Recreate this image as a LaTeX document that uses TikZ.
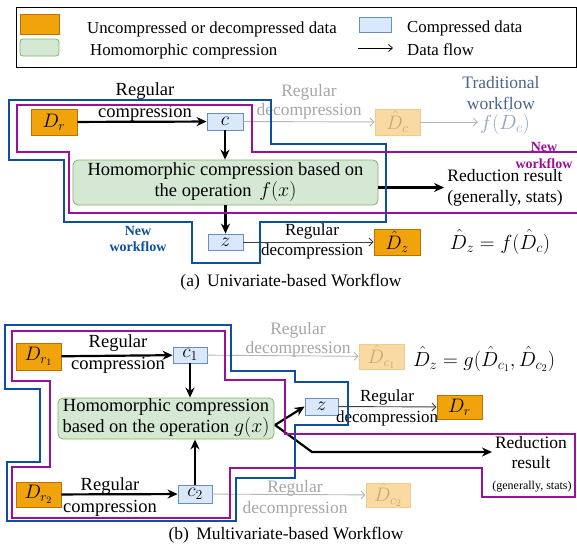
\RequirePackage{fix-cm}
\documentclass[tikz,border=0pt]{standalone}
\usepackage{fontspec}
\setmainfont{Liberation Serif}
\usetikzlibrary{arrows.meta}
\definecolor{orangeF}{HTML}{F0A30A}
\definecolor{orangeD}{HTML}{BD7000}
\definecolor{lorangeF}{HTML}{F9DAA3}
\definecolor{lorangeD}{HTML}{F2CB8C}
\definecolor{lorangeT}{HTML}{CDA86E}
\definecolor{compF}{HTML}{DAE8FC}
\definecolor{compD}{HTML}{6C8EBF}
\definecolor{greenF}{HTML}{D5E8D4}
\definecolor{greenD}{HTML}{82B366}
\definecolor{blueO}{HTML}{0E4F9E}
\definecolor{purpO}{HTML}{9A109A}
\definecolor{grayT}{HTML}{A6A6A6}
\definecolor{grayA}{HTML}{B5B5B5}
\definecolor{darkA}{HTML}{404040}
\definecolor{tradC}{HTML}{4A6589}
\definecolor{fdcC}{HTML}{8CA4C4}
\begin{document}
\begin{tikzpicture}[x=1pt,y=-1pt,
  orig/.style={draw=orangeD, fill=orangeF, inner sep=0, line width=0.8pt, font=\fontsize{19.5}{22}\selectfont},
  lorig/.style={draw=lorangeD, fill=lorangeF, inner sep=0, line width=0.8pt, text=lorangeT, font=\fontsize{19.5}{22}\selectfont},
  comp/.style={draw=compD, fill=compF, inner sep=0, line width=0.8pt, font=\fontsize{19.5}{22}\selectfont},
  homob/.style={draw=greenD, fill=greenF, rounded corners=5pt, inner sep=0, line width=0.8pt, align=center, font=\fontsize{18.5}{21}\selectfont},
  legtxt/.style={font=\fontsize{16.8}{20}\selectfont, anchor=base west, inner sep=0},
  lbl/.style={font=\fontsize{18.5}{22}\selectfont, align=center, inner sep=0},
  glbl/.style={font=\fontsize{17.5}{19}\selectfont, align=center, inner sep=0, text=grayT},
  dlbl/.style={font=\fontsize{17}{20.5}\selectfont, align=center, inner sep=0},
  mth/.style={font=\fontsize{20.5}{24}\selectfont, inner sep=0},
  nwb/.style={font=\fontsize{14}{16}\selectfont\bfseries, align=center, inner sep=0, text=blueO},
  nwp/.style={font=\fontsize{14}{17}\selectfont\bfseries, align=center, inner sep=0, text=purpO},
  captxt/.style={font=\fontsize{17.5}{20}\selectfont, inner sep=0},
  thickarr/.style={-{Stealth[length=10pt,width=9pt]}, line width=2.2pt},
  thinarr/.style={-{Straight Barb[length=4pt,width=8pt]}, line width=0.9pt, draw=darkA},
  grayarr/.style={-{Straight Barb[length=4pt,width=8pt]}, line width=0.9pt, draw=grayA},
  blueline/.style={draw=blueO, line width=2.4pt, line join=miter},
  purpline/.style={draw=purpO, line width=1.9pt, line join=miter}
]
\useasboundingbox (0,0) rectangle (577,546);

% ---------------- legend ----------------
\draw[line width=0.9pt] (16,7) rectangle (576.5,67);
\node[orig, minimum width=39, minimum height=20] (lo) at (39.5,24) {};
\node[homob, minimum width=39, minimum height=17, rounded corners=3pt] (lg) at (39.5,47.5) {};
\node[comp, minimum width=32, minimum height=15] (lb) at (375,24.5) {};
\node[legtxt] (lt1) at (87,33) {Uncompressed or decompressed data};
\node[legtxt] (lt2) at (90,55) {Homomorphic compression};
\node[legtxt] (lt3) at (407,32) {Compressed data};
\node[legtxt] (lt4) at (407,55) {Data flow};
\coordinate (la1) at (358,48);
\coordinate (la2) at (393,48);
\draw[-{Straight Barb[length=4pt,width=7pt]}, line width=0.7pt] (la1) -- (la2);

% ---------------- panel (a) ----------------
\node[orig, minimum width=46, minimum height=26] (dr) at (54,122) {$D_r$};
\node[comp, minimum width=36, minimum height=17] (c) at (225,121.5) {$c$};
\node[lorig, minimum width=45, minimum height=26] (dc) at (397.5,122) {$\hat{D}_c$};
\node[mth, text=fdcC] (fdc) at (505,122) {$f(\hat{D}_c)$};
\node[homob, minimum width=305, minimum height=45] (homo) at (225.5,182.5) {Homomorphic compression based on\\the operation\, {\fontsize{20}{21}\selectfont$f(x)$}};
\node[comp, minimum width=35, minimum height=16] (z) at (225.5,242) {$z$};
\node[orig, minimum width=46, minimum height=26] (dz) at (397,242) {$\hat{D}_z$};

\node[lbl] (rc1) at (145,102) {Regular\\compression};
\node[glbl] (gd1) at (309,102) {Regular\\decompression};
\node[font=\fontsize{17.5}{21}\selectfont, align=center, inner sep=0, text=tradC] (trad) at (501,93.5) {Traditional\\workflow};
\node[dlbl] (rd1) at (312,241.5) {Regular\\decompression};
\node[font=\fontsize{17.5}{21}\selectfont, align=center, inner sep=0] (red1) at (505,187.5) {Reduction result\\(generally, stats)};
\node[nwp] (nwp1) at (544,155.5) {New\\workflow};
\node[nwb] (nwb1) at (138,239) {New\\workflow};
\node[mth] (eqa) at (500,242) {$\hat{D}_z = f(\hat{D}_c)$};
\node[captxt] (capa) at (291,282) {(a)\, Univariate-based Workflow};

\draw[thickarr] (dr) -- (c);
\draw[grayarr] (c) -- (dc);
\draw[grayarr, shorten >=2pt] (dc) -- (fdc);
\draw[thickarr] (c.south) -- (c.south |- homo.north);
\draw[thickarr] (homo.south -| z.north) -- (z.north);
\draw[thinarr] (z) -- (dz);
\draw[thickarr, shorten >=3pt] (homo.east |- red1.west) -- (red1.west);

\draw[blueline] (9,100) -- (271,100) -- (271,144) -- (386,144) -- (386,222) -- (260,222) -- (260,263) -- (192,263) -- (192,222) -- (64,222) -- (64,160) -- (9,160) -- cycle;
\draw[purpline] (578,213) -- (69,213) -- (69,152) -- (17,152) -- (17,105) -- (252,105) -- (252,152) -- (578,152);

% ---------------- panel (b) ----------------
\node[orig, minimum width=45, minimum height=27] (dr1) at (38.5,356.5) {$D_{r_1}$};
\node[comp, minimum width=34, minimum height=16] (c1) at (190,355) {$c_1$};
\node[lorig, minimum width=45, minimum height=25] (dc1) at (381.5,356.5) {$\hat{D}_{c_1}$};
\node[homob, minimum width=216, minimum height=41] (homo2) at (166,418.5) {Homomorphic compression\\based on the operation {\fontsize{20}{21}\selectfont$g(x)$}};
\node[orig, minimum width=45, minimum height=25] (dr2) at (38.5,494.5) {$D_{r_2}$};
\node[comp, minimum width=34, minimum height=18] (c2) at (195,494) {$c_2$};
\node[lorig, minimum width=44, minimum height=24] (dc2) at (388,495) {$\hat{D}_{c_2}$};
\node[comp, minimum width=33, minimum height=17] (zb) at (321.5,406.5) {$z$};
\node[orig, minimum width=45, minimum height=24] (drb) at (459.5,407) {$D_r$};

\node[lbl] (rc2) at (118,354) {Regular\\compression};
\node[lbl] (rc3) at (110,497) {Regular\\compression};
\node[glbl] (gd2) at (298,340) {Regular\\decompression};
\node[font=\fontsize{17.5}{21}\selectfont, align=center, inner sep=0, text=grayT] (gd3) at (295,498.5) {Regular\\decompression};
\node[dlbl] (rd2) at (387,408) {Regular\\decompression};
\node[mth] (eqb) at (484,359) {$\hat{D}_z = g(\hat{D}_{c_1},\hat{D}_{c_2})$};
\node[font=\fontsize{17.5}{20}\selectfont, align=center, inner sep=0] (red2) at (531,453) {Reduction\\result};
\node[font=\fontsize{12}{14}\selectfont, inner sep=0] (red2s) at (532,487) {(generally, stats)};
\node[captxt] (capb) at (286,535) {(b)\, Multivariate-based Workflow};

\coordinate (hb) at (275,425);
\coordinate (bend) at (312,452);
\coordinate (rend) at (492,452);

\draw[thickarr] (dr1) -- (c1);
\draw[grayarr] (c1) -- (dc1);
\draw[thickarr] (c1.south) -- (c1.south |- homo2.north);
\draw[thickarr] (dr2) -- (c2);
\draw[grayarr] (c2) -- (dc2);
\draw[thickarr] (c2.north) -- (c2.north |- homo2.south);
\draw[thickarr] (hb) -- (zb.west);
\draw[thickarr] (hb) -- (bend) -- (rend);
\draw[thinarr] (zb) -- (drb);

\draw[blueline] (5,325) -- (231,325) -- (231,371) -- (295,371) -- (295,382) -- (348,382) -- (348,425) -- (295,425) -- (295,478) -- (236,478) -- (236,521) -- (7,521) -- (7,462) -- (40,462) -- (40,389) -- (5,389) -- cycle;
\draw[purpline] (12,331) -- (225,331) -- (225,380) -- (285,380) -- (285,434) -- (575,434) -- (575,497) -- (482,497) -- (482,468) -- (230,468) -- (230,518) -- (12,518) -- (12,467) -- (50,467) -- (50,381) -- (12,381) -- cycle;
\end{tikzpicture}
\end{document}
